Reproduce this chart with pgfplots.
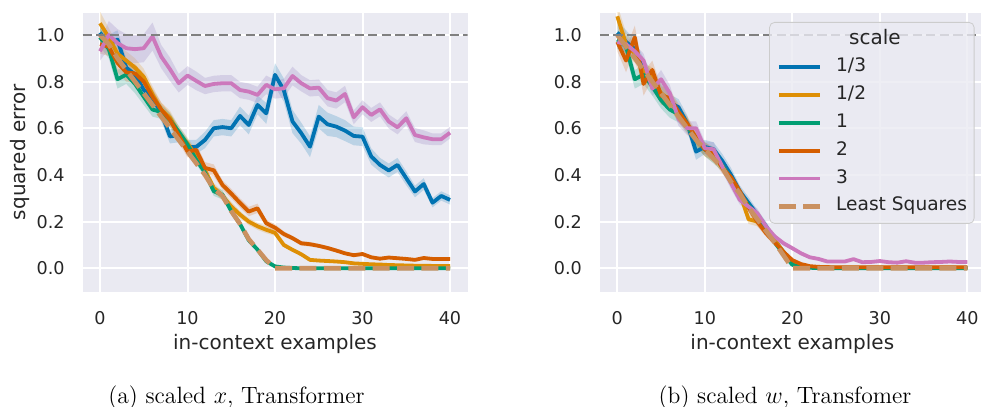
\documentclass[border=0pt]{standalone}
\usepackage{fontspec}
\usepackage{pgfplots}
\pgfplotsset{compat=1.18}
\usepackage{pgfplotstable}
\usepgfplotslibrary{fillbetween}
\newfontfamily\dejavu{DejaVu Sans}
\definecolor{bg}{HTML}{EAEAF2}
\definecolor{txt}{HTML}{262626}
\definecolor{cA}{HTML}{0173B2}
\definecolor{cB}{HTML}{DE8F05}
\definecolor{cC}{HTML}{029E73}
\definecolor{cD}{HTML}{D55E00}
\definecolor{cE}{HTML}{CC78BC}
\definecolor{cEband}{HTML}{A493CA}
\definecolor{cLS}{HTML}{CA9161}
\definecolor{legedge}{HTML}{CCCCCC}
\definecolor{refgray}{HTML}{808080}

\pgfplotstableread{
x a ae b be c ce d de p pe ls
0 1.01 0.04 1.05 0.05 0.99 0.04 0.96 0.04 0.93 0.04 1.00
1 0.96 0.04 0.99 0.04 0.94 0.04 0.95 0.04 1.00 0.06 0.96
2 0.98 0.04 0.92 0.04 0.81 0.04 0.88 0.04 0.965 0.06 0.90
3 0.86 0.04 0.89 0.04 0.83 0.04 0.84 0.04 0.943 0.06 0.85
4 0.83 0.04 0.86 0.04 0.79 0.04 0.835 0.04 0.939 0.06 0.80
5 0.765 0.035 0.82 0.035 0.735 0.035 0.80 0.035 0.943 0.06 0.75
6 0.73 0.035 0.745 0.035 0.68 0.03 0.735 0.035 0.993 0.06 0.70
7 0.665 0.035 0.68 0.03 0.67 0.03 0.68 0.03 0.907 0.05 0.65
8 0.565 0.03 0.645 0.03 0.635 0.03 0.635 0.03 0.853 0.05 0.60
9 0.57 0.03 0.58 0.03 0.585 0.025 0.57 0.03 0.793 0.04 0.55
10 0.52 0.03 0.535 0.025 0.53 0.025 0.50 0.025 0.826 0.04 0.50
11 0.52 0.03 0.48 0.025 0.465 0.02 0.507 0.025 0.803 0.04 0.45
12 0.55 0.035 0.42 0.02 0.41 0.02 0.43 0.025 0.781 0.035 0.40
13 0.60 0.035 0.345 0.02 0.33 0.02 0.42 0.025 0.79 0.035 0.34
14 0.605 0.035 0.31 0.02 0.315 0.02 0.357 0.02 0.793 0.035 0.31
15 0.60 0.035 0.265 0.02 0.245 0.015 0.32 0.02 0.793 0.035 0.245
16 0.653 0.04 0.23 0.015 0.19 0.015 0.28 0.02 0.764 0.035 0.19
17 0.614 0.04 0.20 0.015 0.12 0.01 0.243 0.02 0.757 0.035 0.125
18 0.70 0.04 0.18 0.015 0.08 0.01 0.257 0.02 0.743 0.035 0.08
19 0.664 0.045 0.165 0.015 0.03 0.008 0.193 0.015 0.786 0.04 0.035
20 0.829 0.05 0.152 0.012 0.008 0.004 0.174 0.015 0.767 0.04 0.00
21 0.764 0.05 0.10 0.01 0.003 0.002 0.147 0.012 0.771 0.04 0.00
22 0.629 0.05 0.079 0.008 0.001 0.001 0.129 0.01 0.824 0.04 0.00
23 0.579 0.045 0.06 0.006 0.0 0.0 0.107 0.01 0.793 0.035 0.00
24 0.521 0.045 0.036 0.005 0 0 0.103 0.01 0.771 0.035 0
25 0.65 0.05 0.033 0.005 0 0 0.096 0.008 0.774 0.035 0
26 0.617 0.05 0.031 0.004 0 0 0.087 0.008 0.729 0.035 0
27 0.607 0.045 0.029 0.004 0 0 0.076 0.008 0.719 0.035 0
28 0.59 0.045 0.026 0.004 0 0 0.064 0.007 0.747 0.035 0
29 0.567 0.04 0.021 0.003 0 0 0.056 0.007 0.647 0.03 0
30 0.564 0.04 0.019 0.003 0 0 0.061 0.007 0.69 0.03 0
31 0.479 0.035 0.017 0.003 0 0 0.047 0.006 0.657 0.03 0
32 0.443 0.03 0.016 0.003 0 0 0.041 0.006 0.681 0.03 0
33 0.419 0.03 0.014 0.003 0 0 0.046 0.006 0.629 0.03 0
34 0.443 0.03 0.013 0.003 0 0 0.043 0.006 0.604 0.03 0
35 0.386 0.03 0.012 0.003 0 0 0.040 0.006 0.643 0.03 0
36 0.329 0.025 0.011 0.003 0 0 0.036 0.005 0.571 0.03 0
37 0.361 0.025 0.011 0.003 0 0 0.044 0.005 0.561 0.03 0
38 0.281 0.02 0.010 0.003 0 0 0.040 0.005 0.553 0.025 0
39 0.31 0.02 0.010 0.003 0 0 0.040 0.005 0.553 0.025 0
40 0.293 0.02 0.010 0.003 0 0 0.040 0.005 0.581 0.025 0
}\tabL

\pgfplotstableread{
x a ae b be c ce d de p pe ls
0 1.01 0.05 1.08 0.05 0.98 0.04 0.97 0.04 0.97 0.03 1.00
1 0.97 0.05 0.96 0.05 0.95 0.04 0.89 0.05 0.96 0.03 0.95
2 0.94 0.04 0.92 0.04 0.81 0.04 0.99 0.05 0.93 0.03 0.90
3 0.86 0.04 0.84 0.04 0.83 0.04 0.79 0.05 0.89 0.03 0.85
4 0.80 0.04 0.82 0.04 0.78 0.04 0.85 0.04 0.77 0.03 0.80
5 0.75 0.04 0.75 0.04 0.72 0.035 0.74 0.04 0.81 0.04 0.75
6 0.71 0.035 0.72 0.035 0.68 0.035 0.73 0.035 0.75 0.035 0.70
7 0.69 0.035 0.66 0.035 0.66 0.035 0.67 0.035 0.64 0.03 0.65
8 0.62 0.035 0.61 0.035 0.61 0.03 0.62 0.03 0.60 0.03 0.60
9 0.50 0.035 0.55 0.03 0.55 0.03 0.56 0.03 0.60 0.03 0.55
10 0.52 0.03 0.51 0.03 0.51 0.03 0.51 0.03 0.514 0.03 0.51
11 0.51 0.03 0.48 0.03 0.48 0.03 0.49 0.03 0.51 0.03 0.47
12 0.46 0.03 0.44 0.025 0.44 0.025 0.43 0.025 0.436 0.025 0.43
13 0.40 0.03 0.38 0.025 0.38 0.025 0.39 0.025 0.364 0.025 0.37
14 0.33 0.025 0.32 0.02 0.32 0.02 0.33 0.02 0.293 0.02 0.32
15 0.28 0.025 0.21 0.02 0.27 0.02 0.26 0.02 0.264 0.02 0.26
16 0.23 0.02 0.20 0.02 0.22 0.02 0.20 0.02 0.236 0.02 0.21
17 0.18 0.02 0.16 0.015 0.17 0.015 0.15 0.015 0.179 0.015 0.16
18 0.12 0.015 0.12 0.015 0.11 0.01 0.11 0.015 0.136 0.01 0.11
19 0.07 0.01 0.07 0.01 0.06 0.01 0.07 0.01 0.107 0.01 0.055
20 0.025 0.008 0.03 0.008 0.015 0.005 0.035 0.008 0.086 0.008 0.00
21 0.01 0.004 0.012 0.004 0.005 0.002 0.018 0.005 0.064 0.006 0
22 0.005 0.002 0.006 0.002 0.002 0.001 0.009 0.003 0.047 0.005 0
23 0.003 0.001 0.004 0.001 0.001 0.001 0.006 0.002 0.040 0.004 0
24 0.002 0.001 0.003 0.001 0.001 0.001 0.005 0.002 0.029 0.004 0
25 0.002 0.001 0.002 0.001 0 0 0.004 0.001 0.029 0.004 0
26 0.002 0.001 0.002 0.001 0 0 0.004 0.001 0.029 0.004 0
27 0.002 0.001 0.002 0.001 0 0 0.004 0.001 0.039 0.004 0
28 0.002 0.001 0.002 0.001 0 0 0.004 0.001 0.026 0.004 0
29 0.002 0.001 0.002 0.001 0 0 0.004 0.001 0.027 0.004 0
30 0.002 0.001 0.002 0.001 0 0 0.004 0.001 0.031 0.004 0
31 0.002 0.001 0.002 0.001 0 0 0.004 0.001 0.026 0.004 0
32 0.002 0.001 0.002 0.001 0 0 0.004 0.001 0.024 0.004 0
33 0.002 0.001 0.002 0.001 0 0 0.004 0.001 0.030 0.004 0
34 0.002 0.001 0.002 0.001 0 0 0.004 0.001 0.024 0.004 0
35 0.002 0.001 0.002 0.001 0 0 0.004 0.001 0.024 0.004 0
36 0.002 0.001 0.002 0.001 0 0 0.004 0.001 0.026 0.004 0
37 0.002 0.001 0.002 0.001 0 0 0.004 0.001 0.027 0.004 0
38 0.002 0.001 0.002 0.001 0 0 0.004 0.001 0.029 0.004 0
39 0.002 0.001 0.002 0.001 0 0 0.004 0.001 0.027 0.004 0
40 0.002 0.001 0.002 0.001 0 0 0.004 0.001 0.027 0.004 0
}\tabR

\newcommand{\band}[5]{%
  \addplot[draw=none, forget plot, name path=up#2] table[x=x, y expr=\thisrow{#2}+\thisrow{#3}] {#1};
  \addplot[draw=none, forget plot, name path=lo#2] table[x=x, y expr=\thisrow{#2}-\thisrow{#3}] {#1};
  \addplot[draw=none, fill=#4, fill opacity=#5, forget plot] fill between[of=up#2 and lo#2];
}

\pgfplotsset{
  sbstyle/.style={
    scale only axis, width=192.5pt, height=139.3pt,
    xmin=-2, xmax=42, ymin=-0.1, ymax=1.094,
    axis background/.style={fill=bg},
    axis line style={draw=none},
    major tick length=0pt,
    xtick={0,10,20,30,40}, ytick={0,0.2,0.4,0.6,0.8,1},
    grid=major, major grid style={white, line width=1pt},
    tick label style={font=\dejavu\fontsize{8.8}{10}\selectfont, text=txt},
    /pgf/number format/assume math mode=true,
    yticklabel style={/pgf/number format/fixed, /pgf/number format/fixed zerofill, /pgf/number format/precision=1, inner sep=0pt, xshift=-8.75pt},
    xticklabel style={inner sep=0pt, yshift=-9.5pt},
    label style={font=\dejavu\fontsize{10}{12}\selectfont, text=txt},
    xlabel style={at={(axis description cs:0.5,-0.2071)}, anchor=base},
    ylabel style={at={(axis description cs:-0.1631,0.5)}, anchor=center},
    every axis plot/.append style={line width=1.9pt, line join=round},
    legend image post style={xscale=1.2},
  },
  lsstyle/.style={cLS, line width=2.3pt, dash pattern=on 8.5pt off 3.7pt},
}

\begin{document}
\begin{tikzpicture}
\begin{axis}[sbstyle, at={(41.25pt,57.7pt)}, anchor=south west,
  xlabel={in-context examples}, ylabel={squared error}]
\band{\tabL}{a}{ae}{cA}{0.2}
\addplot[cA] table[x=x,y=a]{\tabL};
\band{\tabL}{b}{be}{cB}{0.2}
\addplot[cB] table[x=x,y=b]{\tabL};
\band{\tabL}{c}{ce}{cC}{0.2}
\addplot[cC] table[x=x,y=c]{\tabL};
\band{\tabL}{d}{de}{cD}{0.2}
\addplot[cD] table[x=x,y=d]{\tabL};
\band{\tabL}{p}{pe}{cEband}{0.3}
\addplot[cE] table[x=x,y=p]{\tabL};
\addplot[lsstyle] table[x=x,y=ls]{\tabL};
\addplot[refgray, line width=1.35pt, dash pattern=on 4.6pt off 2.2pt, forget plot] coordinates {(-2,1) (42,1)};
\end{axis}

\begin{axis}[sbstyle, at={(299.9pt,57.7pt)}, anchor=south west,
  xlabel={in-context examples},
  legend cell align=left,
  legend style={at={(axis description cs:1,1)}, anchor=north east, xshift=-5.15pt, yshift=-4.5pt,
    draw=legedge, fill=bg, fill opacity=0.8, draw opacity=1, text opacity=1, rounded corners=2.5pt,
    font=\dejavu\fontsize{9.3}{11}\selectfont, text=txt,
    inner xsep=3.5pt, inner ysep=3.9pt, row sep=4.6pt,
    nodes={inner sep=0pt, text height=7pt, text depth=2.3pt},
    /tikz/every odd column/.append style={column sep=7pt}},
  ]
\addlegendimage{empty legend}
\addlegendentry{\hspace*{6.5pt}\fontsize{10}{12}\selectfont scale}
\band{\tabR}{a}{ae}{cA}{0.2}
\addplot[cA] table[x=x,y=a]{\tabR};
\addlegendentry{1/3}
\band{\tabR}{b}{be}{cB}{0.2}
\addplot[cB] table[x=x,y=b]{\tabR};
\addlegendentry{1/2}
\band{\tabR}{c}{ce}{cC}{0.2}
\addplot[cC] table[x=x,y=c]{\tabR};
\addlegendentry{1}
\band{\tabR}{d}{de}{cD}{0.2}
\addplot[cD] table[x=x,y=d]{\tabR};
\addlegendentry{2}
\band{\tabR}{p}{pe}{cEband}{0.3}
\addplot[cE] table[x=x,y=p]{\tabR};
\addlegendentry{3}
\addplot[lsstyle] table[x=x,y=ls]{\tabR};
\addlegendentry{Least Squares}
\addplot[refgray, line width=1.35pt, dash pattern=on 4.6pt off 2.2pt, forget plot] coordinates {(-2,1) (42,1)};
\end{axis}

\node[anchor=base, font=\fontsize{11.8}{13.5}\selectfont] at (118.25pt,1.85pt) {(a) scaled $x$, Transformer};
\node[anchor=base, font=\fontsize{11.8}{13.5}\selectfont] at (392.5pt,1.85pt) {(b) scaled $w$, Transfomer};
\pgfresetboundingbox
\useasboundingbox (0,0) rectangle (490.5pt,203.5pt);
\end{tikzpicture}
\end{document}
